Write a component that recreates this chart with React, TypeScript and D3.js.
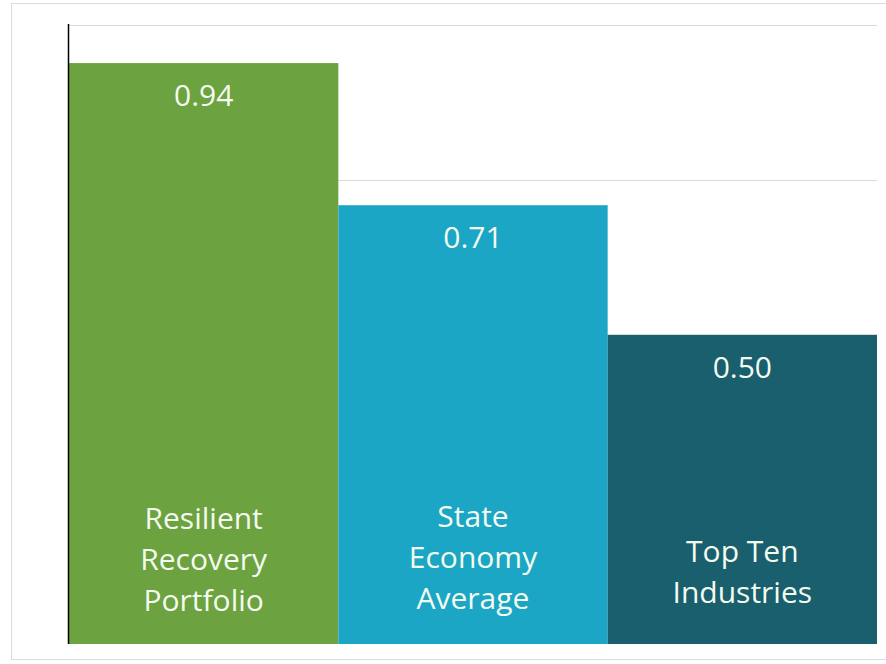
import React, { useEffect, useRef } from 'react'
import * as d3 from 'd3'

// chart data
const categories = ['Resilient Recovery Portfolio', 'State Economy Average', 'Top Ten Industries']
const labelLines = [['Resilient', 'Recovery', 'Portfolio'], ['State', 'Economy', 'Average'], ['Top Ten', 'Industries']]
const values = [0.94, 0.71, 0.5]
const barColors = ['#6ca23f', '#1ba6c5', '#1a5f6d']
const gridTicks = [0, 0.25, 0.5, 0.75, 1]

const W = 886
const H = 664

const App = () => {
    const ref = useRef<SVGSVGElement>(null)

    useEffect(() => {
        draw()
    })

    const draw = () => {
        const left = 69
        const right = 877
        const top = 26
        const bottom = 644

        const svg = d3.select(ref.current)
        svg.selectAll('*').remove()

        // frame around the chart
        svg.append('rect')
            .attr('x', 11.5).attr('y', 3.5)
            .attr('width', 900).attr('height', 656)
            .attr('fill', 'none').attr('stroke', '#dcdcdc')

        const x = d3.scaleBand().domain(categories).range([left, right]).padding(0)
        const y = d3.scaleLinear().domain([0, 1]).range([bottom, top])

        // gridlines
        svg.append('g')
            .selectAll('line')
            .data(gridTicks)
            .enter()
            .append('line')
            .attr('x1', left).attr('x2', right)
            .attr('y1', (d) => Math.round(y(d)) - 0.5)
            .attr('y2', (d) => Math.round(y(d)) - 0.5)
            .attr('stroke', '#d9d9d9')

        // bars
        svg.append('g')
            .selectAll('rect')
            .data(values)
            .enter()
            .append('rect')
            .attr('x', (d, i) => x(categories[i]) || 0)
            .attr('width', x.bandwidth())
            .attr('y', (d) => y(d))
            .attr('height', (d) => bottom - y(d))
            .attr('fill', (d, i) => barColors[i])

        const font = '30px "Open Sans", sans-serif'

        // value labels
        svg.append('g')
            .selectAll('text')
            .data(values)
            .enter()
            .append('text')
            .attr('x', (d, i) => (x(categories[i]) || 0) + x.bandwidth() / 2)
            .attr('y', (d) => y(d) + 43)
            .attr('text-anchor', 'middle')
            .attr('fill', '#f4fbf0')
            .style('font', font)
            .text((d) => d.toFixed(2))

        // category labels inside bars
        const lineH = 41
        labelLines.forEach((lines, i) => {
            const cx = (x(categories[i]) || 0) + x.bandwidth() / 2
            const center = 560 + (3 - lines.length) * 12 - (i === 1 ? 2 : 0)
            const first = center - ((lines.length - 1) * lineH) / 2 + 10
            svg.append('g')
                .selectAll('text')
                .data(lines)
                .enter()
                .append('text')
                .attr('x', cx)
                .attr('y', (d, j) => first + j * lineH)
                .attr('text-anchor', 'middle')
                .attr('fill', '#f4fbf0')
                .style('font', font)
                .text((d) => d)
        })

        // y axis line
        svg.append('line')
            .attr('x1', left - 0.5).attr('x2', left - 0.5)
            .attr('y1', top - 2).attr('y2', bottom)
            .attr('stroke', '#000')
            .attr('stroke-width', 1.5)
    }

    return (
        <svg
            ref={ref}
            width={W}
            height={H}
            style={{ position: 'absolute', left: 0, top: 0, background: '#fff' }}
        />
    )
}

export default App
